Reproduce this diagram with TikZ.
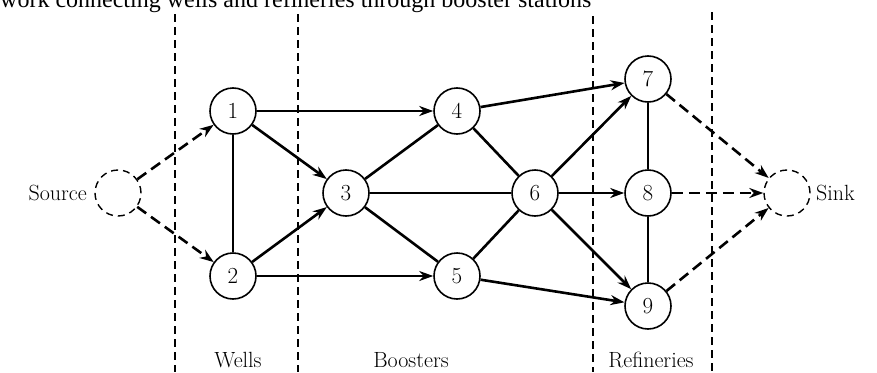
\documentclass[tikz,border=0pt]{standalone}
\usepackage{fontspec}
\newfontfamily\captionfont{Liberation Serif}
\usetikzlibrary{positioning,arrows.meta}

\begin{document}
\begin{tikzpicture}[
  x=1pt, y=-1pt,
  every node/.style={font=\fontsize{22}{26}\selectfont},
  station/.style={circle, draw, line width=1.6pt, minimum size=46pt, inner sep=0pt,
    font=\fontsize{23}{27}\selectfont},
  terminal/.style={circle, draw, line width=1.4pt, minimum size=46pt, inner sep=0pt,
    dash pattern=on 7pt off 5pt},
  pipe/.style={line width=2.6pt},
  flow/.style={pipe, -{Stealth[length=14pt, width=10pt]}},
  feed/.style={flow, dash pattern=on 11pt off 6pt},
  link/.style={line width=1.1pt},
  divider/.style={line width=1.6pt, dash pattern=on 8pt off 5pt},
  zone/.style={anchor=base},
]
\useasboundingbox (0,0) rectangle (877,372);

% Caption (cut off at the top)
\node[anchor=base west, inner sep=0pt, font=\captionfont\fontsize{24}{28}\selectfont] (caption)
  at (0,7) {work connecting wells and refineries through booster stations};

% Zone dividers
\foreach \xd/\yd in {175/14, 298/14, 593/16, 712/12}
  \draw[divider] (\xd,\yd) -- (\xd,372);

% Source and sink
\node[terminal] (src) at (118,193) {};
\node[terminal] (snk) at (787,193) {};
\node[left=4pt of src] (srclabel) {Source};
\node[right=2pt of snk] (snklabel) {Sink};

% Stations
\node[station] (n1) at (233,111) {1};
\node[station] (n2) at (233,276) {2};
\node[station] (n3) at (346,193) {3};
\node[station] (n4) at (457,111) {4};
\node[station] (n5) at (457,276) {5};
\node[station] (n6) at (535,193) {6};
\node[station] (n7) at (648,79) {7};
\node[station] (n8) at (648,193) {8};
\node[station] (n9) at (648,306) {9};

% Zone labels
\node[zone] (wells) at (238,367) {Wells};
\node[zone] (boosters) at (411,367) {Boosters};
\node[zone] (refineries) at (651,367) {Refineries};

% Dummy arcs
\draw[feed] (src) -- (n1);
\draw[feed] (src) -- (n2);
\draw[feed] (n7) -- (snk);
\draw[feed] (n8) -- (snk);
\draw[feed] (n9) -- (snk);

% Directed pipes
\draw[flow] (n1) -- (n4);
\draw[flow] (n1) -- (n3);
\draw[flow] (n2) -- (n3);
\draw[flow] (n2) -- (n5);
\draw[flow] (n4) -- (n7);
\draw[flow] (n6) -- (n7);
\draw[flow] (n6) -- (n8);
\draw[flow] (n6) -- (n9);
\draw[flow] (n5) -- (n9);

% Two-way pipes
\draw[pipe] (n1) -- (n2);
\draw[pipe] (n3) -- (n4);
\draw[pipe] (n3) -- (n5);
\draw[pipe] (n3) -- (n6);
\draw[pipe] (n4) -- (n6);
\draw[pipe] (n5) -- (n6);
\draw[link] (n7) -- (n8);
\draw[link] (n8) -- (n9);
\end{tikzpicture}
\end{document}
